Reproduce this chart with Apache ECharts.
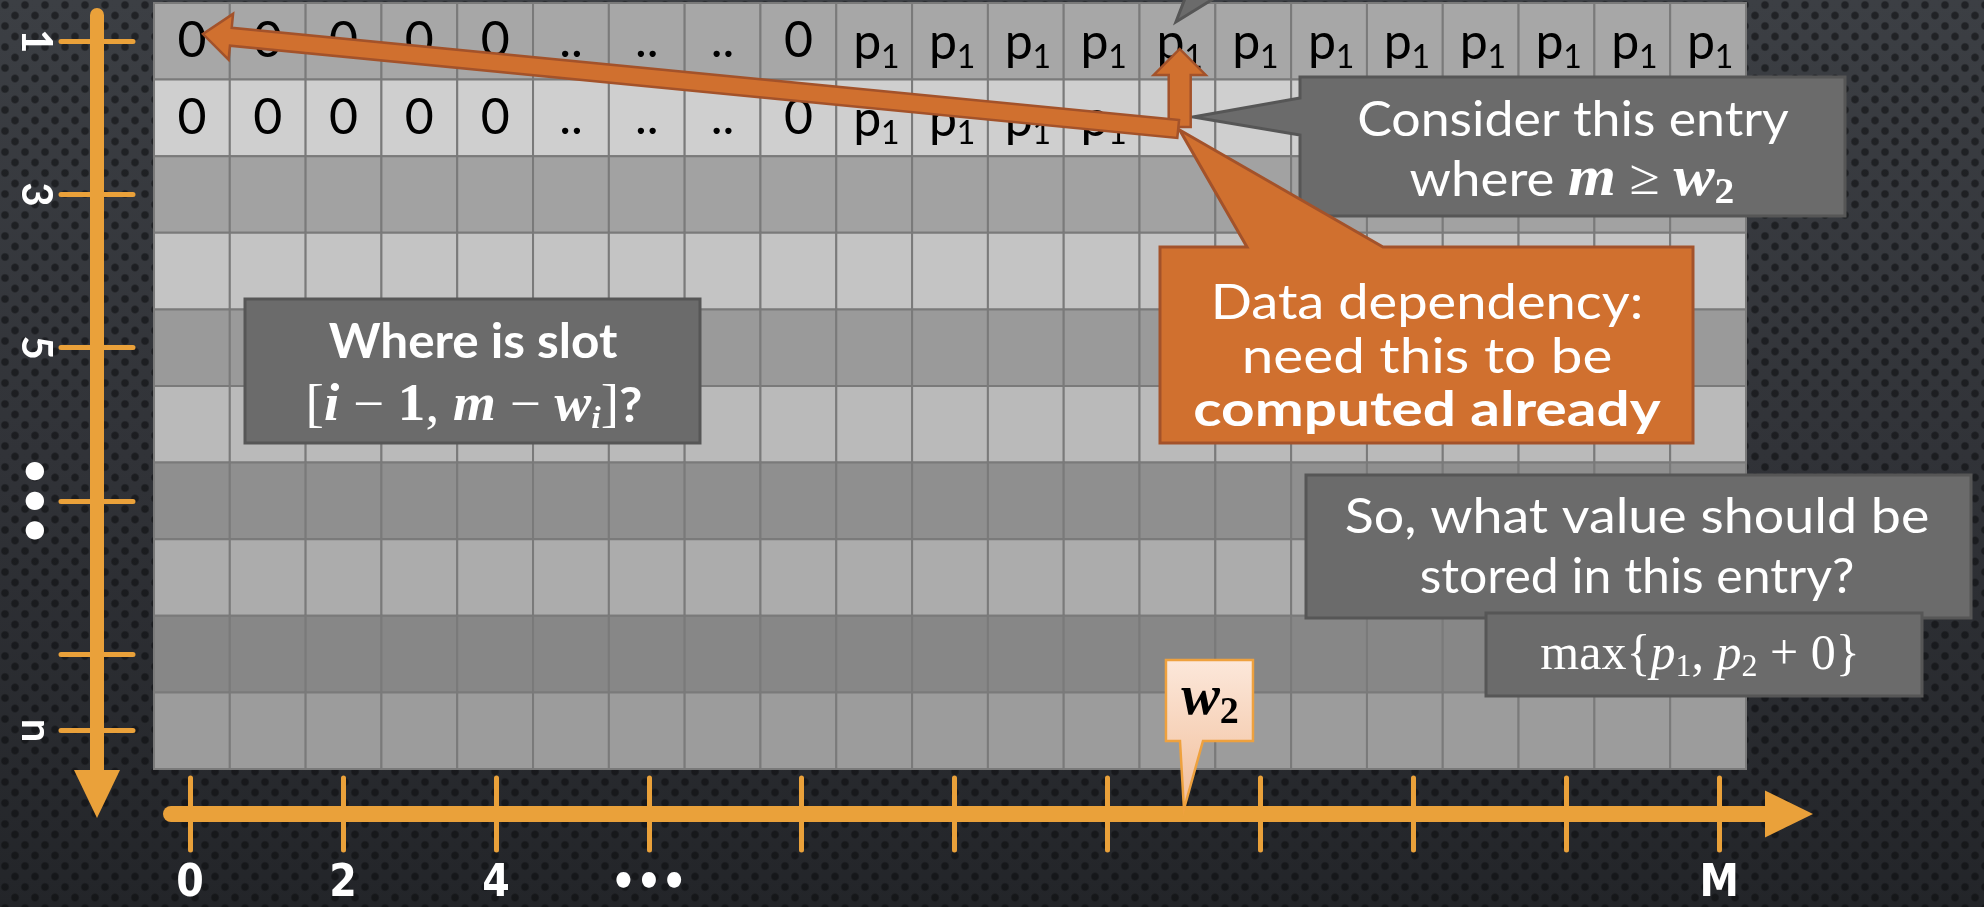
<!DOCTYPE html>
<html><head><meta charset="utf-8">
<script src="https://cdn.jsdelivr.net/npm/echarts@6/dist/echarts.min.js"></script>
<style>
html,body{margin:0;padding:0;width:1984px;height:907px;overflow:hidden;}
body{background:
 radial-gradient(circle at 5px 5px, rgba(10,11,13,.55) 0, rgba(10,11,13,.55) 3px, rgba(10,11,13,0) 4.6px) 0 0/20px 21px,
 radial-gradient(circle at 15px 15.5px, rgba(10,11,13,.55) 0, rgba(10,11,13,.55) 3px, rgba(10,11,13,0) 4.6px) 0 0/20px 21px,
 linear-gradient(#3c3f44 0%, #313338 50%, #232529 100%);}
#chart{width:1984px;height:907px;}
</style></head><body><div id="chart"></div>
<script>
// ---------- data ----------
const columnCount = 21;
const rowCount = 10;
const row1Cells = ['0','0','0','0','0','..','..','..','0','p1','p1','p1','p1','p1','p1','p1','p1','p1','p1','p1','p1'];
const row2Cells = ['0','0','0','0','0','..','..','..','0','p1','p1','p1','p1','','','','','','','',''];
const rowTickRows = [1, 3, 5, 7, 9, 10];
const rowTickText = ['1', '3', '5', '•\u2009•\u2009•', '', 'n'];
const capacityTicks = [0, 2, 4, 6, 8, 10, 12, 14, 16, 18, 20];
const capacityTickText = ['0', '2', '4', '•••', '', '', '', '', '', '', 'M'];
const w2Capacity = 13;
const entryCell = [13, 1];      // [column, row] (0-based) of the considered entry
const dependencyCell = [13, 0]; // entry it depends on
const slotCell = [0, 0];        // slot [i-1, m-w_i] pointed at

// ---------- styles ----------
const tableRows = [row1Cells, row2Cells];
const rowFills = ['#a7a7a7','#cfcfcf','#a2a2a2','#c4c4c4','#9a9a9a','#bababa','#8f8f8f','#acacac','#878787','#9c9c9c'];
const ORANGE = '#eaa13a';
const SANS = "Lato, 'Open Sans', sans-serif";
const SERIF = "'Liberation Serif', 'DejaVu Serif', serif";
const NARROW = "'Liberation Sans Narrow', 'DejaVu Sans Condensed', 'Liberation Sans', sans-serif";

const cellData = [];
for (let r = 0; r < rowCount; r++) for (let c = 0; c < columnCount; c++) cellData.push([c, r]);

function txt(x, y, text, font, fill, z) {
  const el = { type: 'text', style: {
    text, x, y, font, fill: fill || '#000',
    align: 'center', textAlign: 'center', verticalAlign: 'middle', textVerticalAlign: 'middle'
  } };
  if (z != null) el.z = z;
  return el;
}
// text drawn with a horizontal stretch around its anchor (wide slide font)
function stxt(x, y, text, font, fill, z, sx, rich) {
  return { type: 'text', z, x, y, scaleX: sx || 1, style: {
    text, x: 0, y: 0, font, fill, rich,
    align: 'center', textAlign: 'center', verticalAlign: 'middle', textVerticalAlign: 'middle' } };
}

function renderCell(params, api) {
  const c = api.value(0), r = api.value(1);
  const a = api.coord([c, r]), b = api.coord([c + 1, r + 1]);
  const x = Math.min(a[0], b[0]), y = Math.min(a[1], b[1]);
  const w = Math.abs(b[0] - a[0]), h = Math.abs(b[1] - a[1]);
  const cx = x + w / 2, cy = y + h / 2;
  const label = (tableRows[r] || [])[c] || '';
  const children = [{ type: 'rect', shape: { x, y, width: w, height: h },
    style: { fill: rowFills[r], stroke: '#7a7a7a', lineWidth: 2 } }];
  if (label) {
    if (label[0] === 'p') {
      children.push(txt(cx - 7, cy + 2, 'p', `50px ${SANS}`, '#000'));
      children.push(txt(cx + 16, cy + 16, label.slice(1), `32px ${SANS}`, '#000'));
    } else {
      children.push(txt(cx, cy, label, `50px ${SANS}`, '#000'));
    }
  }
  return { type: 'group', children };
}

const tickLine = { color: ORANGE, width: 5, cap: 'round' };
const rowTickValues = rowTickRows.map(k => k - 0.5);
const labelRowValues = rowTickValues.filter((v, i) => rowTickText[i] !== '');
const labelCapValues = capacityTicks.filter((v, i) => capacityTickText[i] !== '');

const option = {
  animation: false,
  backgroundColor: 'transparent',
  grid: [
    { left: 154, top: 3, width: 1592, height: 766 },
    { left: 97, top: 15, width: 20, height: 755 },
    { left: 171, top: 700, width: 1594, height: 118 }
  ],
  xAxis: [
    { gridIndex: 0, type: 'value', min: 0, max: columnCount, show: false },
    { gridIndex: 1, type: 'value', show: false },
    { gridIndex: 2, type: 'value', min: -0.25, max: 20.6, position: 'bottom',
      axisLine: { show: true, onZero: false, symbol: ['none', 'triangle'], symbolSize: [47, 48], symbolOffset: [0, 24],
        lineStyle: { color: ORANGE, width: 16, cap: 'round' } },
      axisTick: { show: true, customValues: capacityTicks, length: 36, lineStyle: tickLine },
      axisLabel: { show: true, customValues: labelCapValues, margin: 49,
        formatter: v => capacityTickText[capacityTicks.indexOf(v)] || '',
        color: '#fff', fontSize: 44, fontWeight: 'bold', fontFamily: NARROW },
      splitLine: { show: false } },
    { gridIndex: 2, type: 'value', min: -0.25, max: 20.6, position: 'bottom',
      axisLine: { show: false, onZero: false },
      axisTick: { show: true, inside: true, customValues: capacityTicks, length: 36, lineStyle: tickLine },
      axisLabel: { show: false }, splitLine: { show: false } }
  ],
  yAxis: [
    { gridIndex: 0, type: 'value', min: 0, max: rowCount, inverse: true, show: false },
    { gridIndex: 1, type: 'value', min: 0.157, max: 10.013, inverse: true, position: 'left',
      axisLine: { show: true, onZero: false, symbol: ['triangle', 'none'], symbolSize: [46, 48], symbolOffset: [-24, 0],
        lineStyle: { color: ORANGE, width: 14, cap: 'round' } },
      axisTick: { show: true, customValues: rowTickValues, length: 36, lineStyle: tickLine },
      axisLabel: { show: true, customValues: labelRowValues, margin: 40, rotate: -90,
        formatter: v => rowTickText[rowTickValues.indexOf(v)] || '',
        color: '#fff', fontSize: 42, fontWeight: 'bold', fontFamily: SANS },
      splitLine: { show: false } },
    { gridIndex: 1, type: 'value', min: 0.157, max: 10.013, inverse: true, position: 'left',
      axisLine: { show: false, onZero: false },
      axisTick: { show: true, inside: true, customValues: rowTickValues, length: 36, lineStyle: tickLine },
      axisLabel: { show: false }, splitLine: { show: false } },
    { gridIndex: 2, type: 'value', min: 0, max: 1, show: false }
  ],
  series: [{
    type: 'custom', xAxisIndex: 0, yAxisIndex: 0, data: cellData,
    renderItem: renderCell, silent: true, z: 2
  }]
};

const chart = echarts.init(document.getElementById('chart'), null, { renderer: 'canvas' });
chart.setOption(option);

// ---------- annotations (anchored to table cells / axis values) ----------
const P = (u, v) => chart.convertToPixel({ gridIndex: 0 }, [u, v]);
const capX = val => chart.convertToPixel({ gridIndex: 2 }, [val, 0])[0];

function arrowPts(T, H, sw, hw, hl) {
  const dx = H[0] - T[0], dy = H[1] - T[1], L = Math.hypot(dx, dy);
  const ux = dx / L, uy = dy / L, nx = -uy, ny = ux;
  const B = [H[0] - ux * hl, H[1] - uy * hl];
  return [[T[0] + nx * sw, T[1] + ny * sw], [B[0] + nx * sw, B[1] + ny * sw], [B[0] + nx * hw, B[1] + ny * hw], H,
          [B[0] - nx * hw, B[1] - ny * hw], [B[0] - nx * sw, B[1] - ny * sw], [T[0] - nx * sw, T[1] - ny * sw]];
}

const GRAY = '#6b6b6b', GRAY_EDGE = '#565656';
const ORANGE_FILL = '#d0702f', ORANGE_EDGE = '#a3522a';
const entryPt = P(entryCell[0] + 0.51, entryCell[1] + 0.645);
const slotPt = P(slotCell[0] + 0.646, slotCell[1] + 0.405);
const upTail = P(dependencyCell[0] + 0.53, dependencyCell[1] + 1.62);
const upTip = P(dependencyCell[0] + 0.53, dependencyCell[1] + 0.60);
const considerTip = P(entryCell[0] + 0.705, entryCell[1] + 0.488);
const orangeTip = P(entryCell[0] + 0.53, entryCell[1] + 0.658);
const topTip = P(dependencyCell[0] + 0.48, dependencyCell[1] + 0.248);
const w2X = capX(w2Capacity);

const W = '#fff';
const g = [];
// cut-off callout from above
g.push({ type: 'polygon', z: 20, shape: { points: [topTip, [topTip[0] + 10, -4], [topTip[0] + 42, -4]] },
  style: { fill: GRAY, stroke: GRAY_EDGE, lineWidth: 3 } });
// "Where is slot" box
g.push({ type: 'rect', z: 20, shape: { x: 245, y: 299, width: 455, height: 144 }, style: { fill: GRAY, stroke: GRAY_EDGE, lineWidth: 3 } });
g.push(stxt(473, 343, 'Where is slot', `bold 48px ${SANS}`, W, 21, 1.03));
g.push(stxt(474, 407, '{b|[}{i|i}{o| − }{n|1}{b|, }{i|m}{o| − }{i|w}{s|i}{b|]}{q|?}', `52px ${SERIF}`, W, 21, 1.06, {
    b: { font: `52px ${SERIF}`, fill: W },
    i: { font: `italic bold 52px ${SERIF}`, fill: W },
    o: { font: `52px ${SERIF}`, fill: W },
    n: { font: `bold 52px ${SERIF}`, fill: W },
    s: { font: `italic bold 32px ${SERIF}`, fill: W, padding: [26, 0, 0, 0] },
    q: { font: `bold 48px ${SANS}`, fill: W }
  }));
// Consider callout
g.push({ type: 'polygon', z: 22, shape: { points: [[1300, 77], [1845, 77], [1845, 216], [1300, 216], [1300, 135], considerTip, [1300, 98]] },
  style: { fill: GRAY, stroke: GRAY_EDGE, lineWidth: 3 } });
g.push(stxt(1573, 121, 'Consider this entry', `48px ${SANS}`, W, 23, 1.08));
g.push(stxt(1572, 181, '{t|where }{m|m}{o| ≥ }{m|w}{s|2}', `48px ${SANS}`, W, 23, 1.1, {
    t: { font: `48px ${SANS}`, fill: W },
    m: { font: `italic bold 56px ${SERIF}`, fill: W },
    o: { font: `50px ${SERIF}`, fill: W },
    s: { font: `bold 36px ${SERIF}`, fill: W, padding: [26, 0, 0, 0] }
  }));
// Data dependency callout
g.push({ type: 'polygon', z: 24, shape: { points: [[1160, 247], [1247, 247], orangeTip, [1383, 247], [1693, 247], [1693, 443], [1160, 443]] },
  style: { fill: ORANGE_FILL, stroke: ORANGE_EDGE, lineWidth: 3 } });
g.push(stxt(1427, 304, 'Data dependency:', `48px ${SANS}`, W, 25, 1.13));
g.push(stxt(1427, 358, 'need this to be', `48px ${SANS}`, W, 25, 1.18));
g.push(stxt(1427, 411, 'computed already', `bold 48px ${SANS}`, W, 25, 1.22));
// So, what value box
g.push({ type: 'rect', z: 26, shape: { x: 1306, y: 475, width: 665, height: 143 }, style: { fill: GRAY, stroke: GRAY_EDGE, lineWidth: 3 } });
g.push(stxt(1637, 518, 'So, what value should be', `48px ${SANS}`, W, 27, 1.12));
g.push(stxt(1637, 578, 'stored in this entry?', `48px ${SANS}`, W, 27, 1.04));
// max box
g.push({ type: 'rect', z: 28, shape: { x: 1486, y: 613, width: 436, height: 83 }, style: { fill: GRAY, stroke: GRAY_EDGE, lineWidth: 3 } });
g.push(stxt(1700, 656, '{n|max{}{i|p}{s|1}{n|, }{i|p}{s|2}{n| + 0}}', `50px ${SERIF}`, W, 29, 1.0, {
    n: { font: `50px ${SERIF}`, fill: W },
    i: { font: `italic 50px ${SERIF}`, fill: W },
    s: { font: `32px ${SERIF}`, fill: W, padding: [24, 0, 0, 0] }
  }));
// w2 callout on the capacity axis
g.push({ type: 'polygon', z: 30, shape: { points: [[w2X - 18, 660], [w2X + 69, 660], [w2X + 69, 741], [w2X + 19, 741], [w2X, 809], [w2X - 4, 741], [w2X - 18, 741]] },
  style: { fill: new echarts.graphic.LinearGradient(0, 0, 0, 1, [{ offset: 0, color: '#fce8db' }, { offset: 1, color: '#f1bd98' }]),
    stroke: '#eea13e', lineWidth: 2.5 } });
g.push(stxt(w2X + 26, 699, '{m|w}{s|2}', `italic bold 52px ${SERIF}`, '#000', 31, 1.0, {
    m: { font: `italic bold 58px ${SERIF}`, fill: '#000' },
    s: { font: `bold 38px ${SERIF}`, fill: '#000', padding: [28, 0, 0, 0] }
  }));
// dependency arrows
g.push({ type: 'polygon', z: 32, shape: { points: arrowPts(upTail, upTip, 11, 26, 26) },
  style: { fill: ORANGE_FILL, stroke: ORANGE_EDGE, lineWidth: 2.5 } });
g.push({ type: 'polygon', z: 33, shape: { points: arrowPts(entryPt, slotPt, 9, 23, 28) },
  style: { fill: ORANGE_FILL, stroke: ORANGE_EDGE, lineWidth: 2.5 } });

chart.setOption({ graphic: { elements: g } });
</script></body></html>
